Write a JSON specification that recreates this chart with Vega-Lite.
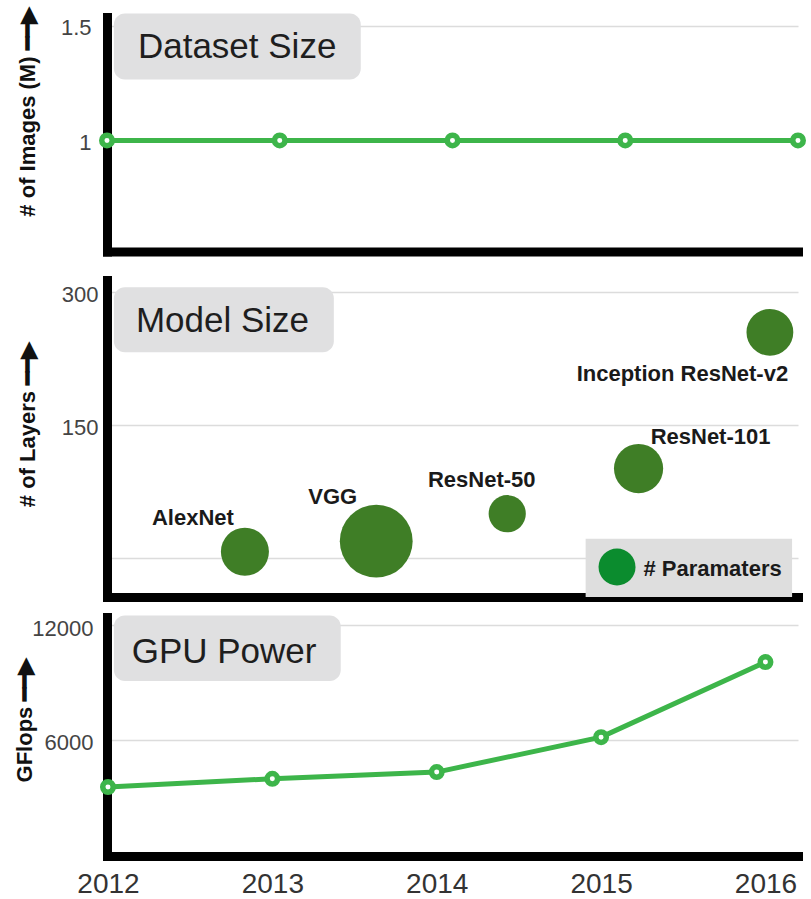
{
  "$schema": "https://vega.github.io/schema/vega-lite/v6.json",
  "padding": {"left": 13, "top": 6, "right": 0, "bottom": 0},
  "spacing": 18,
  "config": {
    "view": {"stroke": null},
    "font": "Liberation Sans",
    "axis": {
      "domainColor": "#000000",
      "domainWidth": 9,
      "domainCap": "square",
      "ticks": false,
      "gridColor": "#dcdcdc",
      "gridWidth": 1.5,
      "labelFont": "Liberation Sans",
      "labelColor": "#444444",
      "labelFontSize": 22,
      "labelFlush": false,
      "titleFont": "Liberation Sans",
      "titleFontWeight": "bold",
      "titleFontSize": 22,
      "titleColor": "#111111"
    }
  },
  "vconcat": [
    {
      "width": 691,
      "height": 234.5,
      "data": {"values": [
        {"year": 2012, "images": 1},
        {"year": 2013, "images": 1},
        {"year": 2014, "images": 1},
        {"year": 2015, "images": 1},
        {"year": 2016, "images": 1}
      ]},
      "layer": [
        {
          "data": {"values": [{}]},
          "mark": {"type": "rect", "color": "#e0e0e1", "cornerRadius": 11},
          "encoding": {
            "x": {"datum": 2012.04, "type": "quantitative"},
            "x2": {"datum": 2013.469},
            "y": {"datum": 1.552, "type": "quantitative"},
            "y2": {"datum": 1.265}
          }
        },
        {
          "data": {"values": [{}]},
          "mark": {"type": "text", "text": "Dataset Size", "align": "left", "baseline": "alphabetic", "fontSize": 35, "color": "#1e1e1e"},
          "encoding": {
            "x": {"datum": 2012.179, "type": "quantitative"},
            "y": {"datum": 1.3565, "type": "quantitative"}
          }
        },
        {
          "mark": {"type": "line", "color": "#3db54a", "strokeWidth": 5},
          "encoding": {
            "x": {"field": "year", "type": "quantitative",
              "scale": {"domain": [2012, 2016], "nice": false, "zero": false},
              "axis": {"title": null, "labels": false, "grid": false, "ticks": true, "tickSize": 10.5, "tickOpacity": 0, "values": [2012]}},
            "y": {"field": "images", "type": "quantitative",
              "scale": {"domain": [0.517, 1.537], "nice": false, "zero": false},
              "axis": {"title": "# of Images (M) \u2501\u2501\u25b6", "values": [1, 1.5], "format": "~g", "grid": true, "labelPadding": 16, "labelBaseline": "middle", "labelOffset": 2,
                "titleAngle": 270, "titleAlign": "center", "titleBaseline": "alphabetic", "titleX": -73, "titleY": 94.5}}
          }
        },
        {
          "mark": {"type": "point", "filled": true, "fill": "white", "stroke": "#3db54a", "strokeWidth": 5.5, "size": 110, "opacity": 1},
          "encoding": {
            "x": {"field": "year", "type": "quantitative"},
            "y": {"field": "images", "type": "quantitative"}
          }
        }
      ]
    },
    {
      "width": 691,
      "height": 317,
      "data": {"values": [
        {"model": "AlexNet", "pos": 2012.833, "layers": 7, "params": 60},
        {"model": "VGG", "pos": 2013.632, "layers": 19, "params": 138},
        {"model": "ResNet-50", "pos": 2014.429, "layers": 50, "params": 36},
        {"model": "ResNet-101", "pos": 2015.228, "layers": 101, "params": 63},
        {"model": "Inception ResNet-v2", "pos": 2016.027, "layers": 255, "params": 57}
      ]},
      "layer": [
        {
          "data": {"values": [{}]},
          "mark": {"type": "rect", "color": "#dedede"},
          "encoding": {
            "x": {"datum": 2014.906, "type": "quantitative"},
            "x2": {"datum": 2016.162},
            "y": {"datum": 21.7, "type": "quantitative"},
            "y2": {"datum": -44.1}
          }
        },
        {
          "data": {"values": [{}]},
          "mark": {"type": "rect", "color": "#e0e0e1", "cornerRadius": 11},
          "encoding": {
            "x": {"datum": 2012.036, "type": "quantitative"},
            "x2": {"datum": 2013.374},
            "y": {"datum": 306, "type": "quantitative"},
            "y2": {"datum": 232.6}
          }
        },
        {
          "data": {"values": [{}]},
          "mark": {"type": "text", "text": "Model Size", "align": "left", "baseline": "alphabetic", "fontSize": 35, "color": "#1e1e1e"},
          "encoding": {
            "x": {"datum": 2012.17, "type": "quantitative"},
            "y": {"datum": 255.2, "type": "quantitative"}
          }
        },
        {
          "mark": {"type": "point", "filled": true, "color": "#3f7e26", "opacity": 1},
          "encoding": {
            "x": {"field": "pos", "type": "quantitative",
              "scale": {"domain": [2011.994, 2016.198], "nice": false, "zero": false},
              "axis": {"title": null, "labels": false, "grid": false}},
            "y": {"field": "layers", "type": "quantitative",
              "scale": {"domain": [-44.1, 314.1], "nice": false, "zero": false},
              "axis": {"title": "# of Layers \u2501\u2501\u25b6", "values": [0, 150, 300], "labelExpr": "datum.value == 0 ? '' : datum.label", "grid": true, "labelPadding": 9, "labelBaseline": "middle", "labelOffset": 2,
                "titleAngle": 270, "titleAlign": "center", "titleBaseline": "alphabetic", "titleX": -73, "titleY": 144}},
            "size": {"field": "params", "type": "quantitative", "scale": {"type": "linear", "domain": [0, 138], "range": [0, 5307]}, "legend": null}
          }
        },
        {
          "transform": [{"filter": "datum.model == 'AlexNet'"}],
          "mark": {"type": "text", "fontSize": 22, "fontWeight": "bold", "color": "#1a1a1a", "align": "center", "baseline": "middle", "dx": -52, "dy": -34},
          "encoding": {"x": {"field": "pos", "type": "quantitative"}, "y": {"field": "layers", "type": "quantitative"}, "text": {"field": "model"}}
        },
        {
          "transform": [{"filter": "datum.model == 'VGG'"}],
          "mark": {"type": "text", "fontSize": 22, "fontWeight": "bold", "color": "#1a1a1a", "align": "center", "baseline": "middle", "dx": -43.5, "dy": -44.5},
          "encoding": {"x": {"field": "pos", "type": "quantitative"}, "y": {"field": "layers", "type": "quantitative"}, "text": {"field": "model"}}
        },
        {
          "transform": [{"filter": "datum.model == 'ResNet-50'"}],
          "mark": {"type": "text", "fontSize": 22, "fontWeight": "bold", "color": "#1a1a1a", "align": "center", "baseline": "middle", "dx": -25.5, "dy": -33.5},
          "encoding": {"x": {"field": "pos", "type": "quantitative"}, "y": {"field": "layers", "type": "quantitative"}, "text": {"field": "model"}}
        },
        {
          "transform": [{"filter": "datum.model == 'ResNet-101'"}],
          "mark": {"type": "text", "fontSize": 22, "fontWeight": "bold", "color": "#1a1a1a", "align": "center", "baseline": "middle", "dx": 72, "dy": -31.5},
          "encoding": {"x": {"field": "pos", "type": "quantitative"}, "y": {"field": "layers", "type": "quantitative"}, "text": {"field": "model"}}
        },
        {
          "transform": [{"filter": "datum.model == 'Inception ResNet-v2'"}],
          "mark": {"type": "text", "fontSize": 22, "fontWeight": "bold", "color": "#1a1a1a", "align": "center", "baseline": "middle", "dx": -87.5, "dy": 41.5},
          "encoding": {"x": {"field": "pos", "type": "quantitative"}, "y": {"field": "layers", "type": "quantitative"}, "text": {"field": "model"}}
        },
        {
          "data": {"values": [{}]},
          "mark": {"type": "point", "filled": true, "color": "#0b8c2e", "opacity": 1, "size": 1369},
          "encoding": {
            "x": {"datum": 2015.097, "type": "quantitative"},
            "y": {"datum": -10.2, "type": "quantitative"}
          }
        },
        {
          "data": {"values": [{}]},
          "mark": {"type": "text", "text": "# Paramaters", "align": "left", "baseline": "middle", "fontSize": 22, "fontWeight": "bold", "color": "#1a1a1a"},
          "encoding": {
            "x": {"datum": 2015.258, "type": "quantitative"},
            "y": {"datum": -12.4, "type": "quantitative"}
          }
        }
      ]
    },
    {
      "width": 691,
      "height": 239,
      "data": {"values": [
        {"year": 2012, "gflops": 3530},
        {"year": 2013, "gflops": 3960},
        {"year": 2014, "gflops": 4310},
        {"year": 2015, "gflops": 6140},
        {"year": 2016, "gflops": 10070}
      ]},
      "layer": [
        {
          "data": {"values": [{}]},
          "mark": {"type": "rect", "color": "#e0e0e1", "cornerRadius": 11},
          "encoding": {
            "x": {"datum": 2012.036, "type": "quantitative"},
            "x2": {"datum": 2013.416},
            "y": {"datum": 12506, "type": "quantitative"},
            "y2": {"datum": 9077}
          }
        },
        {
          "data": {"values": [{}]},
          "mark": {"type": "text", "text": "GPU Power", "align": "left", "baseline": "alphabetic", "fontSize": 35, "color": "#1e1e1e"},
          "encoding": {
            "x": {"datum": 2012.144, "type": "quantitative"},
            "y": {"datum": 10037, "type": "quantitative"}
          }
        },
        {
          "mark": {"type": "line", "color": "#3db54a", "strokeWidth": 5},
          "encoding": {
            "x": {"field": "year", "type": "quantitative",
              "scale": {"domain": [2011.994, 2016.198], "nice": false, "zero": false},
              "axis": {"title": null, "values": [2012, 2013, 2014, 2015, 2016], "format": "d", "grid": false, "labelFontSize": 28, "labelColor": "#333333", "labelPadding": 14}},
            "y": {"field": "gflops", "type": "quantitative",
              "scale": {"domain": [-81, 12428], "nice": false, "zero": false},
              "axis": {"title": "GFlops \u2501\u2501\u25b6", "values": [6000, 12000], "format": "d", "grid": true, "labelPadding": 14, "labelBaseline": "middle", "labelOffset": 3,
                "titleAngle": 270, "titleAlign": "center", "titleBaseline": "alphabetic", "titleX": -76, "titleY": 102.5}}
          }
        },
        {
          "mark": {"type": "point", "filled": true, "fill": "white", "stroke": "#3db54a", "strokeWidth": 5.5, "size": 110, "opacity": 1},
          "encoding": {
            "x": {"field": "year", "type": "quantitative"},
            "y": {"field": "gflops", "type": "quantitative"}
          }
        }
      ]
    }
  ]
}
